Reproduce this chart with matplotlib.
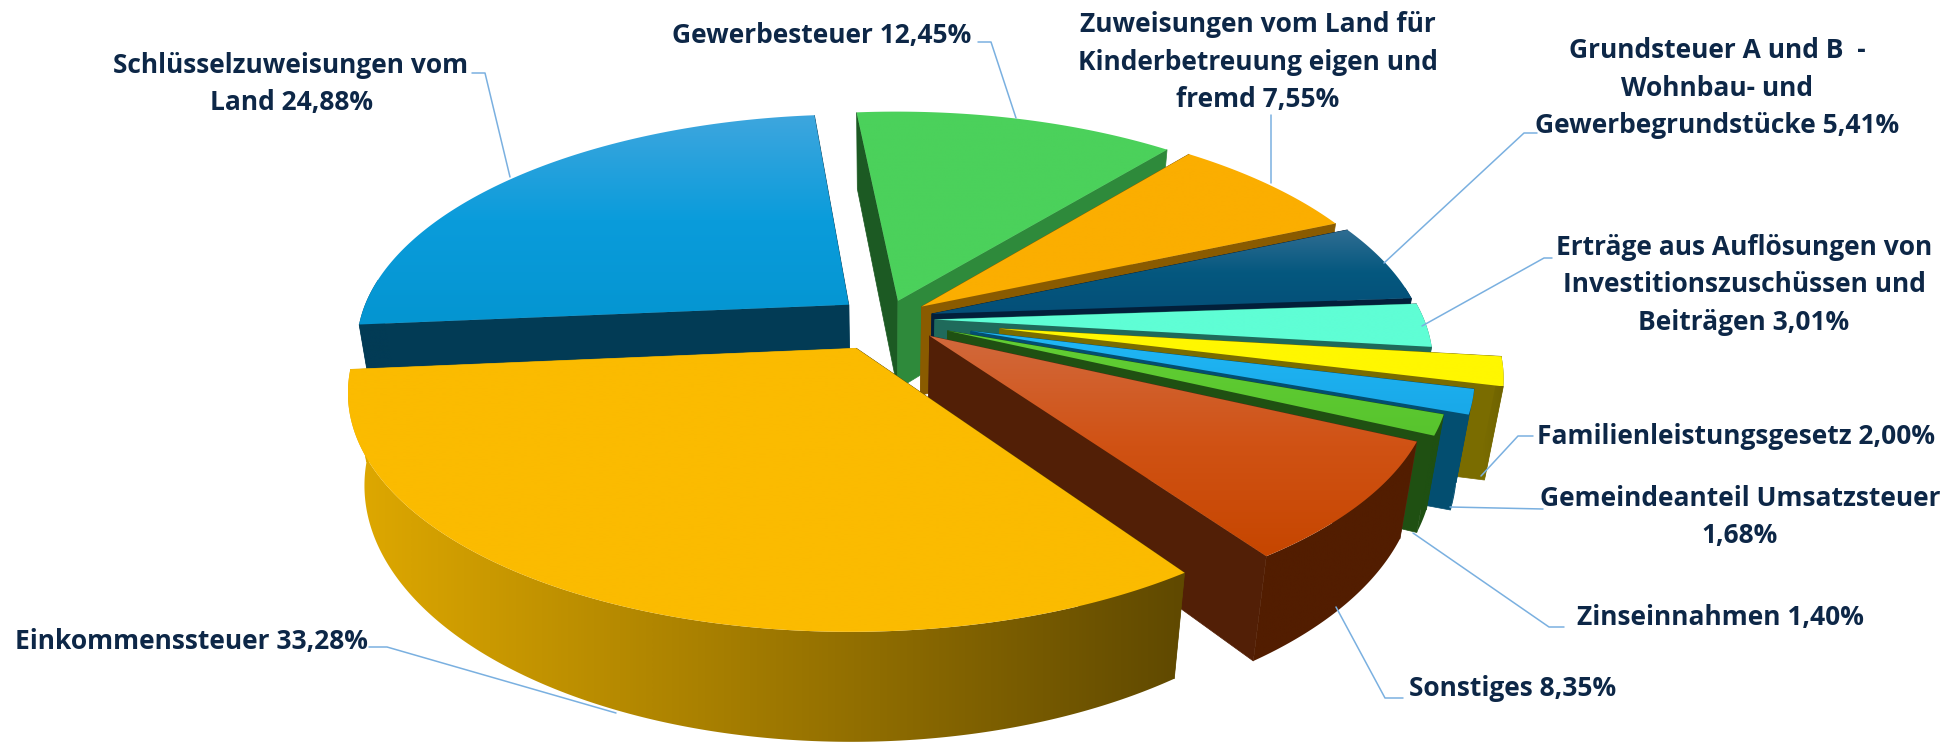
import numpy as np
import matplotlib
matplotlib.use("Agg")
import matplotlib.pyplot as plt
from matplotlib.colors import LinearSegmentedColormap
from matplotlib.patches import Polygon

# === data ===
names = ["Gewerbesteuer", "Zuweisungen Kinderbetreuung", "Grundsteuer", "Erträge Auflösungen",
         "Familienleistungsgesetz", "Gemeindeanteil Umsatzsteuer", "Zinseinnahmen", "Sonstiges",
         "Einkommenssteuer", "Schlüsselzuweisungen"]
values = [12.45, 7.55, 5.41, 3.01, 2.00, 1.68, 1.40, 8.35, 33.28, 24.88]
explode = [0.085, 0.092, 0.097, 0.10, 0.235, 0.18, 0.135, 0.115, 0.14, 0.10]

# top colour stops (back -> front of the slice), cut wall colours (start, end), rim colours (left, right)
top_colors = [["#4bd15b", "#4bd15b"], ["#fbae00", "#fbae00"], ["#2f6d92", "#05587f", "#044f78"],
              ["#5ffed5", "#5ffed5"], ["#fff700", "#fff700"], ["#20b8f6", "#19a8e8"],
              ["#62cf34", "#58c42e"], ["#d2693c", "#d05214", "#c64600"], ["#fbbb00", "#fbbb00"],
              ["#3ea6de", "#0a9cdb", "#0495d1"]]
wall_colors = [["#1c5a23", "#2e8a3b"], ["#8a5b00", "#8a5b00"], ["#021f3a", "#021f3a"],
               ["#1f6a5b", "#1f6a5b"], ["#7a6c00", "#7a6c00"], ["#034e70", "#034e70"],
               ["#1f5012", "#1f5012"], ["#5a2a14", "#521f06"], ["#5f4a00", "#dfa900"],
               ["#023b55", "#023b55"]]
rim_colors = [["#2e8a3b", "#2e8a3b"], ["#8a5b00", "#8a5b00"], ["#021f3a", "#021f3a"],
              ["#1f6a5b", "#1f6a5b"], ["#7a6c00", "#6f6300"], ["#034e70", "#034e70"],
              ["#1f5012", "#1f5012"], ["#521d00", "#521d00"], ["#dfa900", "#604900"],
              ["#023b55", "#023b55"]]

labels = ["Gewerbesteuer 12,45%",
          "Zuweisungen vom Land für\nKinderbetreuung eigen und\nfremd 7,55%",
          "Grundsteuer A und B  -\nWohnbau- und\nGewerbegrundstücke 5,41%",
          "Erträge aus Auflösungen von\nInvestitionszuschüssen und\nBeiträgen 3,01%",
          "Familienleistungsgesetz 2,00%",
          "Gemeindeanteil Umsatzsteuer\n1,68%",
          "Zinseinnahmen 1,40%",
          "Sonstiges 8,35%",
          "Einkommenssteuer 33,28%",
          "Schlüsselzuweisungen vom\nLand 24,88%"]
label_x = [822, 1258, 1717, 1744, 1736, 1740, 1720, 1513, 191, 291]
label_y = [35, 62, 88, 285, 436, 517, 618, 689, 641, 84]
leaders = [[(978, 42), (991, 42), (1016, 118)],
           [(1271, 115), (1271, 183)],
           [(1537, 133), (1524, 133), (1384, 263)],
           [(1552, 258), (1544, 258), (1422, 326)],
           [(1533, 436), (1518, 436), (1481, 476)],
           [(1543, 509), (1450, 507)],
           [(1564, 627), (1549, 627), (1413, 533)],
           [(1403, 698), (1385, 698), (1336, 607)],
           [(369, 647), (387, 647), (616, 713)],
           [(472, 73), (485, 73), (510, 177)]]

# === projection ===
CX, CY = 886, 319
R, RY = 489, 226
H = 92
KX, KY, KH, DROP = 0.17, 0.165, 0.24, 0.03
START = -5.5


def project(x, y, down=False):
    drop = DROP if down else 0
    sx = CX + R * x / (1 + KX * y + drop)
    sy = CY - RY * y / (1 + KY * y + drop)
    if down:
        sy = sy + H / (1 + KH * y + drop)
    return sx, sy


def gradient_fill(ax, points, colors, z, vertical=True):
    # gradient image clipped to a polygon
    pts = np.array(points)
    shape = Polygon(pts, closed=True, fc="none", ec="none", zorder=z)
    ax.add_patch(shape)
    cmap = LinearSegmentedColormap.from_list("grad", colors)
    grad = np.linspace(0, 1, 256)
    grad = grad.reshape(-1, 1) if vertical else grad.reshape(1, -1)
    im = ax.imshow(grad, cmap=cmap, aspect="auto", zorder=z, interpolation="bilinear",
                   extent=(pts[:, 0].min(), pts[:, 0].max(), pts[:, 1].max(), pts[:, 1].min()))
    im.set_clip_path(shape)


fig = plt.figure(figsize=(19.43, 7.42), dpi=100)
ax = fig.add_axes([0, 0, 1, 1])
ax.axis("off")

bounds = START + np.concatenate([[0], np.cumsum(values)]) * 3.6 * 100 / sum(values)
# back slices first, front slices paint over them
order = [9, 0, 1, 2, 3, 4, 5, 6, 7, 8]
z = 1
for i in order:
    t0, t1 = np.radians(bounds[i]), np.radians(bounds[i + 1])
    mid = (t0 + t1) / 2
    ox, oy = explode[i] * np.sin(mid), explode[i] * np.cos(mid)
    ts = np.linspace(t0, t1, 240)
    top_x, top_y = project(ox + np.sin(ts), oy + np.cos(ts))
    bot_x, bot_y = project(ox + np.sin(ts), oy + np.cos(ts), down=True)
    a_top = project(ox, oy)
    a_bot = project(ox, oy, down=True)

    # cut walls, the one further back first
    for n in sorted([0, -1], key=lambda n: top_y[n]):
        col = wall_colors[i][0 if n == 0 else 1]
        quad = [a_top, (top_x[n], top_y[n]), (bot_x[n], bot_y[n]), a_bot]
        ax.add_patch(Polygon(quad, closed=True, fc=col, ec=col, lw=0.5, zorder=z))
        z += 1

    # rim, only the part that faces the viewer
    front = np.cos(ts) <= 0.12
    if front.any():
        rim = np.column_stack([np.concatenate([top_x[front], bot_x[front][::-1]]),
                               np.concatenate([top_y[front], bot_y[front][::-1]])])
        gradient_fill(ax, rim, rim_colors[i], z, vertical=False)
    z += 1

    # top face
    top = np.column_stack([np.concatenate([[a_top[0]], top_x]), np.concatenate([[a_top[1]], top_y])])
    gradient_fill(ax, top, top_colors[i], z)
    z += 1

ax.set_xlim(0, 1943)
ax.set_ylim(742, 0)

# === labels ===
for pts in leaders:
    xs, ys = zip(*pts)
    ax.plot(xs, ys, color="#7ab0e0", lw=1.1, zorder=z, solid_capstyle="round")
for text, x, y in zip(labels, label_x, label_y):
    ax.text(x, y, text, ha="center", va="center", fontsize=19, fontweight="bold",
            family="Open Sans", color="#0d2747", linespacing=1.48, zorder=z + 1)

fig.savefig("out.png", dpi=100)
